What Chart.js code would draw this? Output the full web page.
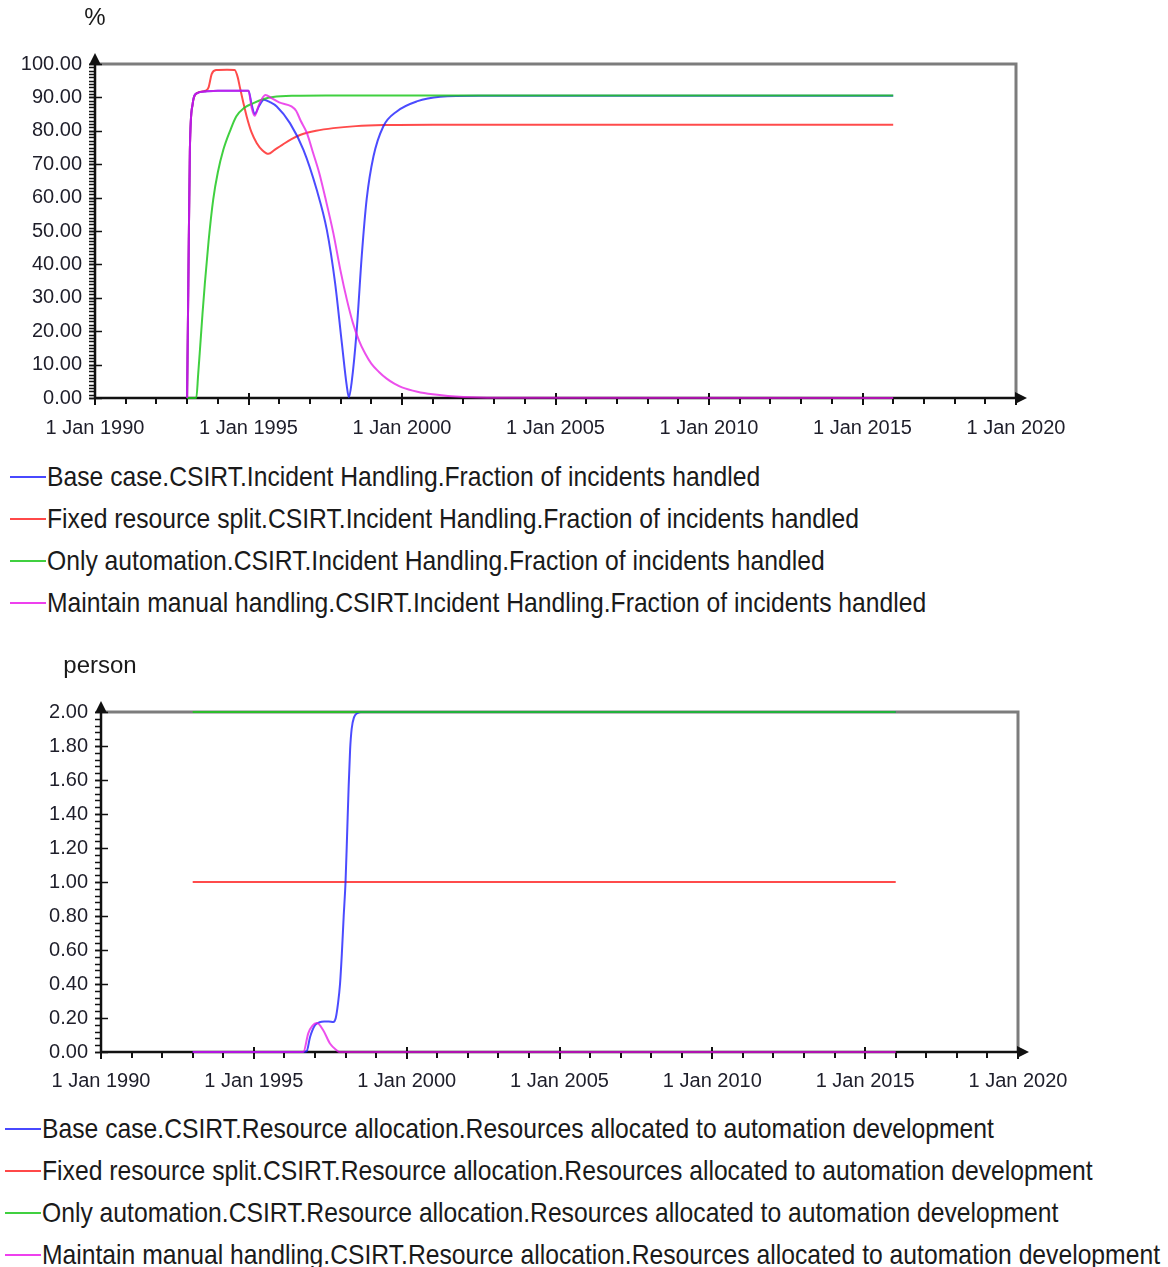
<!DOCTYPE html>
<html>
<head>
<meta charset="utf-8">
<script src="https://cdn.jsdelivr.net/npm/chart.js@4.4.1/dist/chart.umd.min.js"></script>
<style>
  body { margin: 0; background: #fff; width: 1168px; height: 1267px; position: relative; overflow: hidden;
         font-family: Arial, "Liberation Sans", sans-serif; color: #1a1a1a; }
  canvas { position: absolute; left: 0; }
  .legend-row { position: absolute; white-space: nowrap; display: flex; align-items: center; height: 30px;
                font-size: 24.7px; }
  .legend-row .ln { display: inline-block; width: 36px; height: 2px; margin-right: 1px; }
  .legend-row .tx { display: inline-block; transform: scaleY(1.15); transform-origin: 50% 55%; }
</style>
</head>
<body>
<canvas id="fractionChart" width="1168" height="440" style="top:0"></canvas>
<canvas id="resourceChart" width="1168" height="460" style="top:640px"></canvas>
<div id="legends"></div>
<script>
const scenarioNames = ['Base case', 'Fixed resource split', 'Only automation', 'Maintain manual handling'];
const lineColors = ['rgba(30,30,255,0.8)', 'rgba(255,30,30,0.8)', 'rgba(30,200,30,0.85)', 'rgba(230,20,230,0.75)'];
const legendColors = ['#4848ff', '#ff4848', '#40d040', '#ee40ee'];
const drawOrder = [1, 2, 0, -1];   // lower = drawn later (on top)
const fractionSuffix = '.CSIRT.Incident Handling.Fraction of incidents handled';
const resourceSuffix = '.CSIRT.Resource allocation.Resources allocated to automation development';

// ---- Fraction of incidents handled (%) ----
const baseFracYears = [1993.0, 1993.04, 1993.09, 1993.18, 1993.31, 1993.6, 1994.0, 1994.5, 1995.0, 1995.1, 1995.2,
  1995.35, 1995.5, 1995.7, 1995.92, 1996.35, 1996.79, 1997.22, 1997.55, 1997.82, 1998.04, 1998.2, 1998.27,
  1998.36, 1998.52, 1998.69, 1998.85, 1999.07, 1999.39, 1999.83, 2000.48, 2001.24, 2002.5, 2016.0];
const baseFracValues = [0, 34, 74, 88, 91.2, 91.8, 92, 92, 92, 88, 85,
  87.5, 89.3, 88.6, 87.3, 82.3, 74.3, 62.4, 50.4, 34.5, 16.5, 3.7, 0.2,
  4.7, 19.7, 42.7, 59.6, 72.3, 81.3, 85.8, 88.8, 90.2, 90.5, 90.5];

const fixedFracYears = [1993.0, 1993.04, 1993.09, 1993.18, 1993.31, 1993.6, 1993.7, 1993.8, 1993.95, 1994.3, 1994.55,
  1994.65, 1994.72, 1994.83, 1994.94, 1995.1, 1995.27, 1995.45, 1995.65, 1995.85, 1996.1, 1996.4, 1996.7,
  1997.2, 1997.76, 1998.5, 1999.4, 2001.0, 2016.0];
const fixedFracValues = [0, 34, 74, 88, 91.2, 92, 93, 97, 98.2, 98.3, 98.2,
  96, 93, 88.5, 84.3, 79.5, 76.3, 74.2, 73.1, 74.3, 75.8, 77.5, 78.8,
  80, 80.8, 81.4, 81.7, 81.8, 81.8];

const autoFracYears = [1993.0, 1993.3, 1993.36, 1993.42, 1993.5, 1993.58, 1993.7, 1993.85, 1994.0, 1994.18, 1994.4,
  1994.6, 1994.85, 1995.16, 1995.5, 1995.8, 1996.5, 1997.5, 2016.0];
const autoFracValues = [0, 0, 7, 14.6, 25, 34.5, 47, 59.4, 67.5, 74.3, 80,
  84.3, 86.8, 88.3, 89.5, 90.1, 90.5, 90.6, 90.6];

const manualFracYears = [1993.0, 1993.04, 1993.09, 1993.18, 1993.31, 1993.6, 1994.0, 1994.5, 1995.0, 1995.1, 1995.2,
  1995.35, 1995.55, 1995.75, 1996.0, 1996.4, 1996.55, 1996.7, 1996.9, 1997.1, 1997.3, 1997.5, 1997.76,
  1998.0, 1998.2, 1998.4, 1998.6, 1998.8, 1999.0, 1999.25, 1999.5, 1999.75, 2000.0, 2000.5, 2001.0, 2001.5,
  2002.0, 2003.0, 2016.0];
const manualFracValues = [0, 34, 74, 88, 91.2, 91.8, 92, 92, 92, 87, 84.5,
  88, 90.7, 89.8, 88.5, 87.3, 86, 83, 79.4, 73.5, 67.5, 60, 49.5,
  38, 29.6, 22.5, 17.2, 13.3, 10.3, 7.8, 5.8, 4.3, 3.2, 1.9, 1.1, 0.6,
  0.3, 0.05, 0];

// ---- Resources allocated to automation development (person) ----
const baseResYears = [1993.0, 1996.6, 1996.73, 1996.84, 1997.0, 1997.15, 1997.3, 1997.45, 1997.6, 1997.68, 1997.75,
  1997.82, 1997.88, 1997.94, 1998.0, 1998.05, 1998.1, 1998.15, 1998.2, 1998.28, 1998.4, 1998.5, 2016.0];
const baseResValues = [0, 0, 0.005, 0.088, 0.157, 0.175, 0.18, 0.18, 0.176, 0.2, 0.28,
  0.4, 0.58, 0.8, 1.0, 1.27, 1.55, 1.78, 1.9, 1.97, 1.995, 2.0, 2.0];

const fixedResYears = [1993.0, 2016.0];
const fixedResValues = [1.0, 1.0];

const autoResYears = [1993.0, 2016.0];
const autoResValues = [2.0, 2.0];

const manualResYears = [1993.0, 1996.62, 1996.78, 1996.92, 1997.06, 1997.27, 1997.49, 1997.71, 1997.8, 2016.0];
const manualResValues = [0, 0, 0.11, 0.155, 0.17, 0.128, 0.05, 0.01, 0, 0];

const yearMin = 1990, yearMax = 2020, yearStep = 5;

const FONT = 'Arial, "Liberation Sans", sans-serif';

function line(ctx, x1, y1, x2, y2) {
  ctx.beginPath(); ctx.moveTo(x1, y1); ctx.lineTo(x2, y2); ctx.stroke();
}

// axes, ticks and arrows drawn in the style of the original simulator plot
const simAxes = {
  id: 'simAxes',
  beforeDatasetsDraw(chart, args, opts) {
    const { ctx, chartArea: a, scales: { x, y } } = chart;
    ctx.save();
    ctx.strokeStyle = '#7c7c7c';
    ctx.lineWidth = 3;
    ctx.beginPath();
    ctx.moveTo(a.left, a.top); ctx.lineTo(a.right, a.top); ctx.lineTo(a.right, a.bottom);
    ctx.stroke();

    ctx.strokeStyle = '#111';
    ctx.lineWidth = 2.5;
    line(ctx, a.left, a.bottom, a.right + 2, a.bottom);
    line(ctx, a.left, a.bottom, a.left, a.top - 2);

    ctx.lineWidth = 1.5;
    for (let v = y.min; v <= y.max + 1e-9; v += opts.yMinor) {
      const py = Math.round(y.getPixelForValue(v)) + 0.5;
      line(ctx, a.left - 6, py, a.left, py);
    }
    y.ticks.forEach(t => {
      const py = Math.round(y.getPixelForValue(t.value)) + 0.5;
      line(ctx, a.left - 6, py, a.left + 7, py);
    });
    ctx.lineWidth = 2;
    for (let v = x.min; v <= x.max; v += 1) {
      const px = Math.round(x.getPixelForValue(v));
      line(ctx, px, a.bottom, px, a.bottom + 6);
    }
    x.ticks.forEach(t => {
      const px = Math.round(x.getPixelForValue(t.value));
      line(ctx, px, a.bottom - 5, px, a.bottom + 7);
    });

    ctx.fillStyle = '#111';
    ctx.beginPath();
    ctx.moveTo(a.left, a.top - 11); ctx.lineTo(a.left - 6, a.top + 1); ctx.lineTo(a.left + 6, a.top + 1);
    ctx.closePath(); ctx.fill();
    ctx.beginPath();
    ctx.moveTo(a.right + 11, a.bottom); ctx.lineTo(a.right - 1, a.bottom - 6); ctx.lineTo(a.right - 1, a.bottom + 6);
    ctx.closePath(); ctx.fill();
    ctx.restore();
  },
  afterDraw(chart, args, opts) {
    const { ctx, chartArea: a } = chart;
    ctx.save();
    ctx.fillStyle = '#1a1a1a';
    ctx.font = '24px ' + FONT;
    ctx.textAlign = 'center';
    ctx.textBaseline = 'middle';
    ctx.fillText(opts.unit, a.left + opts.unitDx, a.top - 46);
    ctx.restore();
  }
};

function buildDatasets(series, suffix) {
  return series.map((s, i) => ({
    label: scenarioNames[i] + suffix,
    data: s.years.map((yr, k) => ({ x: yr, y: s.values[k] })),
    borderColor: lineColors[i],
    backgroundColor: lineColors[i],
    borderWidth: 2,
    pointRadius: 0,
    cubicInterpolationMode: 'monotone',
    clip: false,
    order: drawOrder[i]
  }));
}

function makeChart(canvasId, series, suffix, o) {
  return new Chart(document.getElementById(canvasId), {
    type: 'line',
    data: { datasets: buildDatasets(series, suffix) },
    options: {
      responsive: false,
      animation: false,
      devicePixelRatio: 1,
      layout: { padding: { left: 0, top: o.padTop, right: o.padRight, bottom: 0 } },
      plugins: {
        legend: { display: false },
        tooltip: { enabled: false },
        simAxes: { yMinor: o.yMinor, unit: o.unit, unitDx: o.unitDx }
      },
      scales: {
        x: {
          type: 'linear', min: yearMin, max: yearMax,
          grid: { display: false, drawTicks: false },
          border: { display: false },
          ticks: { stepSize: yearStep, maxRotation: 0, autoSkip: false, padding: o.xPad, color: '#1e1e2a',
                   font: { family: FONT, size: 20 }, callback: v => '1 Jan ' + v },
          afterFit: s => { s.height = o.xHeight; }
        },
        y: {
          min: o.yMin, max: o.yMax,
          grid: { display: false, drawTicks: false },
          border: { display: false },
          ticks: { stepSize: o.yStep, padding: 13, color: '#1e1e2a',
                   font: { family: FONT, size: 20 }, callback: v => v.toFixed(2) },
          afterFit: s => { s.width = o.yWidth; }
        }
      }
    },
    plugins: [simAxes]
  });
}

makeChart('fractionChart', [
  { years: baseFracYears, values: baseFracValues },
  { years: fixedFracYears, values: fixedFracValues },
  { years: autoFracYears, values: autoFracValues },
  { years: manualFracYears, values: manualFracValues }
], fractionSuffix, { padTop: 64, padRight: 152, yWidth: 95, xHeight: 42, xPad: 18,
  yMin: 0, yMax: 100, yStep: 10, yMinor: 1, unit: '%', unitDx: 0 });

makeChart('resourceChart', [
  { years: baseResYears, values: baseResValues },
  { years: fixedResYears, values: fixedResValues },
  { years: autoResYears, values: autoResValues },
  { years: manualResYears, values: manualResValues }
], resourceSuffix, { padTop: 72, padRight: 150, yWidth: 101, xHeight: 48, xPad: 17,
  yMin: 0, yMax: 2, yStep: 0.2, yMinor: 0.04, unit: 'person', unitDx: -1 });

// legends below each panel
function addLegend(suffix, rowsY, lineLeft) {
  const holder = document.getElementById('legends');
  scenarioNames.forEach((name, i) => {
    const row = document.createElement('div');
    row.className = 'legend-row';
    row.style.left = lineLeft + 'px';
    row.style.top = (rowsY[i] - 15) + 'px';
    row.innerHTML = '<span class="ln" style="background:' + legendColors[i] + '"></span><span class="tx"></span>';
    row.querySelector('.tx').textContent = name + suffix;
    holder.appendChild(row);
  });
}
addLegend(fractionSuffix, [477, 519, 561, 603], 10);
addLegend(resourceSuffix, [1129, 1171, 1213, 1255], 5);
</script>
</body>
</html>
